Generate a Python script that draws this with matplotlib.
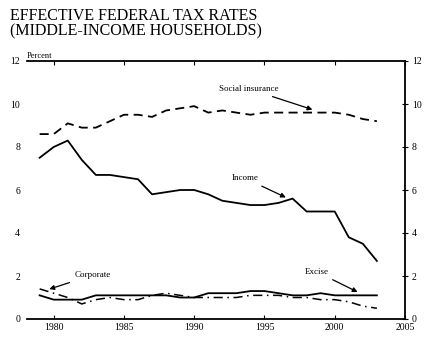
import matplotlib
matplotlib.use('Agg')
import matplotlib.pyplot as plt

plt.rcParams['font.family'] = ['Liberation Serif', 'DejaVu Serif']

years = list(range(1979, 2004))
income = [7.5, 8.0, 8.3, 7.4, 6.7, 6.7, 6.6, 6.5, 5.8, 5.9, 6.0, 6.0, 5.8, 5.5,
          5.4, 5.3, 5.3, 5.4, 5.6, 5.0, 5.0, 5.0, 3.8, 3.5, 2.7]
social = [8.6, 8.6, 9.1, 8.9, 8.9, 9.2, 9.5, 9.5, 9.4, 9.7, 9.8, 9.9, 9.6, 9.7,
          9.6, 9.5, 9.6, 9.6, 9.6, 9.6, 9.6, 9.6, 9.5, 9.3, 9.2]
corporate = [1.4, 1.2, 1.0, 0.7, 0.9, 1.0, 0.9, 0.9, 1.1, 1.2, 1.1, 1.0, 1.0, 1.0,
             1.0, 1.1, 1.1, 1.1, 1.0, 1.0, 0.9, 0.9, 0.8, 0.6, 0.5]
excise = [1.1, 0.9, 0.9, 0.9, 1.1, 1.1, 1.1, 1.1, 1.1, 1.1, 1.0, 1.0, 1.2, 1.2,
          1.2, 1.3, 1.3, 1.2, 1.1, 1.1, 1.2, 1.1, 1.1, 1.1, 1.1]

fig = plt.figure(figsize=(4.34, 3.43), dpi=100)
ax = fig.add_axes([27/434, 1-319/343, (405-27)/434, (319-61)/343])

ax.plot(years, income, color='black', lw=1.3)
ax.plot(years, social, color='black', lw=1.3, linestyle=(0, (5, 3)))
ax.plot(years, corporate, color='black', lw=1.1, linestyle=(0, (6, 3, 1, 3)))
ax.plot(years, excise, color='black', lw=1.3)

ax.set_xlim(1978.1, 2005)
ax.set_ylim(0, 12)
ax.set_xticks([1980, 1985, 1990, 1995, 2000, 2005])
ax.set_yticks([0, 2, 4, 6, 8, 10, 12])
ax.tick_params(axis='x', direction='in', top=True, labelsize=7, length=3, pad=3)
ax.tick_params(axis='y', direction='inout', left=False, right=True,
               labelleft=True, labelright=True, labelsize=7, length=4, pad=3)
ax.spines['left'].set_visible(False)
for s in ['top', 'bottom', 'right']:
    ax.spines[s].set_linewidth(1.3)

arrow = dict(arrowstyle='-|>', color='black', lw=0.9, mutation_scale=7)
ax.annotate('Social insurance', xy=(1998.6, 9.7), xytext=(1993.9, 10.7),
            fontsize=6.5, ha='center', va='center', arrowprops=arrow)
ax.annotate('Income', xy=(1996.7, 5.6), xytext=(1993.6, 6.55),
            fontsize=6.5, ha='center', va='center', arrowprops=arrow)
ax.annotate('Corporate', xy=(1979.5, 1.35), xytext=(1982.8, 2.05),
            fontsize=6.5, ha='center', va='center', arrowprops=arrow)
ax.annotate('Excise', xy=(2001.8, 1.2), xytext=(1998.7, 2.2),
            fontsize=6.5, ha='center', va='center', arrowprops=arrow)

ax.text(0, 1.005, 'Percent', transform=ax.transAxes, fontsize=6,
        ha='left', va='bottom')

fig.text(10/434, 1-8/343, 'EFFECTIVE FEDERAL TAX RATES\n(MIDDLE-INCOME HOUSEHOLDS)',
         fontsize=11.5, ha='left', va='top', linespacing=0.95)

fig.savefig('out.png', dpi=100)
